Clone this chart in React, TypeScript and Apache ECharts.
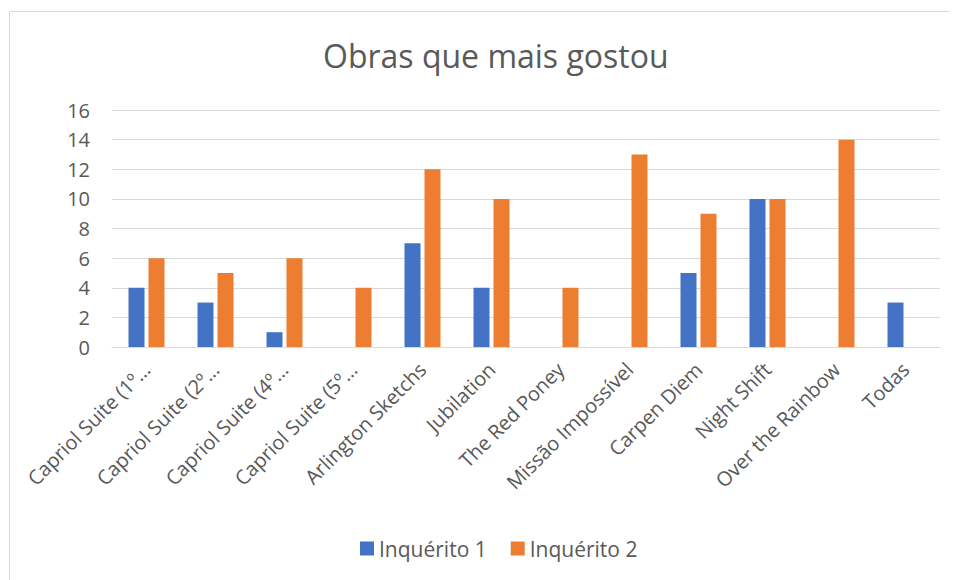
import React, { useEffect, useRef } from "react";
import * as echarts from "echarts";

const categories = [
  "Capriol Suite (1º…",
  "Capriol Suite (2º…",
  "Capriol Suite (4º…",
  "Capriol Suite (5º…",
  "Arlington Sketchs",
  "Jubilation",
  "The Red Poney",
  "Missão Impossível",
  "Carpen Diem",
  "Night Shift",
  "Over the Rainbow",
  "Todas",
];
const inquerito1 = [4, 3, 1, null, 7, 4, null, null, 5, 10, null, 3];
const inquerito2 = [6, 5, 6, 4, 12, 10, 4, 13, 9, 10, 14, null];
const seriesNames = ["Inquérito 1", "Inquérito 2"];

const FONT = "'Open Sans', 'Liberation Sans', sans-serif";

export default function App() {
  const ref = useRef<HTMLDivElement>(null);
  useEffect(() => {
    if (!ref.current) return;
    const chart = echarts.init(ref.current, undefined, { renderer: "svg" });
    chart.setOption({
      animation: false,
      backgroundColor: "#ffffff",
      textStyle: { fontFamily: FONT },
      title: {
        text: "Obras que mais gostou",
        left: 310,
        top: 26,
        textStyle: { fontFamily: FONT, fontSize: 32, fontWeight: "normal", color: "#595959" },
      },
      graphic: [
        {
          type: "rect",
          shape: { x: 1.5, y: 3.5, width: 1000, height: 700 },
          style: { fill: "none", stroke: "#d9d9d9", lineWidth: 1 },
          silent: true,
        },
      ],
      legend: {
        bottom: 16,
        left: 347,
        itemWidth: 14,
        itemHeight: 14,
        itemGap: 24,
        icon: "rect",
        textStyle: { fontFamily: FONT, fontSize: 21, color: "#595959" },
        data: seriesNames,
      },
      grid: { left: 104, right: 17, top: 102, bottom: 233, containLabel: false },
      xAxis: {
        type: "category",
        data: categories,
        axisLine: { lineStyle: { color: "#d9d9d9", width: 1 } },
        axisTick: { show: false },
        axisLabel: {
          rotate: 45,
          interval: 0,
          margin: 19,
          fontFamily: FONT,
          fontSize: 20,
          color: "#595959",
        },
      },
      yAxis: {
        type: "value",
        min: 0,
        max: 16,
        interval: 2,
        axisLine: { show: false },
        axisTick: { show: false },
        splitLine: { lineStyle: { color: "#d9d9d9", width: 1 } },
        axisLabel: { fontFamily: FONT, fontSize: 20, color: "#595959", margin: 22 },
      },
      series: [
        {
          name: seriesNames[0],
          type: "bar",
          data: inquerito1,
          barWidth: 16,
          barGap: "25%",
          itemStyle: { color: "#4472C4" },
        },
        {
          name: seriesNames[1],
          type: "bar",
          data: inquerito2,
          barWidth: 16,
          barGap: "25%",
          itemStyle: { color: "#ED7D31" },
        },
      ],
    });
    return () => chart.dispose();
  }, []);
  return <div ref={ref} style={{ width: 949, height: 572 }} />;
}
